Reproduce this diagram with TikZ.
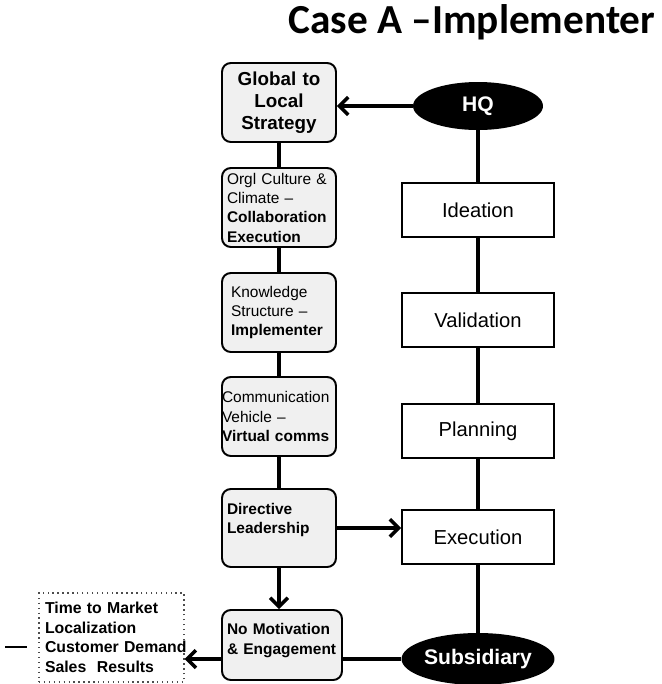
\documentclass[tikz,border=0pt]{standalone}
\usepackage{fontspec}
\setmainfont{Liberation Sans}
\newfontfamily\titlefont{Carlito}
\usetikzlibrary{shapes.geometric, positioning, arrows.meta, calc}
\hyphenpenalty=10000
\exhyphenpenalty=10000
\tikzset{
  factor/.style={rectangle, rounded corners=5pt, draw=black, line width=1.1pt, fill=black!6, minimum width=2.28cm, minimum height=1.58cm, inner ysep=1pt, align=left, font=\fontsize{8.8}{11}\selectfont},
  stage/.style={rectangle, draw=black, line width=1pt, minimum width=3.04cm, minimum height=1.08cm, font=\fontsize{11.5}{14}\selectfont},
  site/.style={ellipse, fill=black, text=white, inner sep=0pt, font=\fontsize{12}{14}\selectfont\bfseries},
  result/.style={rectangle, draw=black!70, dotted, line width=0.8pt, minimum width=2.9cm, minimum height=1.78cm, align=left, font=\fontsize{9}{11.2}\selectfont\bfseries},
  link/.style={line width=2pt},
  arrow/.style={line width=2pt,->,>={Straight Barb[length=5pt,width=10pt]}}
}

\begin{document}
\begin{tikzpicture}[x=0.02cm, y=-0.02cm]
\useasboundingbox (0,0) rectangle (662,684);

% Titulo
\node[font=\titlefont\fontsize{23.5}{28}\selectfont\bfseries, anchor=base] (title) at (472,33) {Case A –Implementer};

% Columna izquierda (factores)
\node[factor, text width=2.2cm, inner xsep=0.04cm, align=center, font=\fontsize{10.7}{12.5}\selectfont\bfseries] (glob) at (279,102.5) {Global to\\Local\\Strategy};
\node[factor, text width=2.08cm, inner xsep=0.1cm] (orgl) at (279,207.5) {Orgl Culture \&\\Climate –\\\textbf{Collaboration}\\\textbf{Execution}};
\node[factor, text width=1.92cm, inner xsep=0.18cm] (know) at (279,312.5) {Knowledge\\Structure –\\\textbf{Implementer}};
\node[factor, text width=2.28cm, inner xsep=0pt] (comm) at (279,416.5) {Communication\\Vehicle –\\\textbf{Virtual~comms}};
\node[factor, text width=2.08cm, inner xsep=0.1cm, minimum height=1.56cm, font=\fontsize{8.8}{11}\selectfont\bfseries] (dir) at (279,528) {Directive\\Leadership\\\mbox{}};
\node[factor, text width=2.2cm, inner xsep=0.1cm, minimum width=2.4cm, minimum height=1.4cm, font=\fontsize{8.8}{11}\selectfont\bfseries] (nomot) at (282,645) {No~Motivation\\\&~Engagement\\[-4pt]\mbox{}};

% Resultados
\node[result, text width=2.66cm, inner xsep=0.12cm] (res) at (111.5,637.5) {Time~to~Market\\Localization\\Customer~Demand\\Sales~ Results};
\draw[line width=1.3pt] (5,647) -- (27,647);

% Columna derecha (etapas)
\node[site, minimum width=2.6cm, minimum height=0.96cm] (hq) at (478,106) {HQ};
\node[stage] (ide) at (478,210) {Ideation};
\node[stage] (val) at (478,320) {Validation};
\node[stage] (plan) at (478,431) {Planning};
\node[stage] (exe) at (478,537) {Execution};
\node[site, minimum width=3.06cm, minimum height=1.04cm] (sub) at (478,659) {Subsidiary};

% Conexiones
\draw[arrow] (hq.west) -- (hq.west -| glob.east);
\draw[link] (glob) -- (orgl);
\draw[link] (orgl) -- (know);
\draw[link] (know) -- (comm);
\draw[link] (comm) -- (dir);
\draw[arrow] (dir.south) -- (dir.south |- nomot.north);
\draw[arrow] (dir.east) -- (dir.east -| exe.west);

\draw[link] (hq) -- (ide);
\draw[link] (ide) -- (val);
\draw[link] (val) -- (plan);
\draw[link] (plan) -- (exe);
\draw[link] (exe) -- (sub);

\draw[link] (sub.west) -- (sub.west -| nomot.east);
\draw[arrow] (sub.west -| nomot.west) -- (sub.west -| res.east);

\end{tikzpicture}
\end{document}
